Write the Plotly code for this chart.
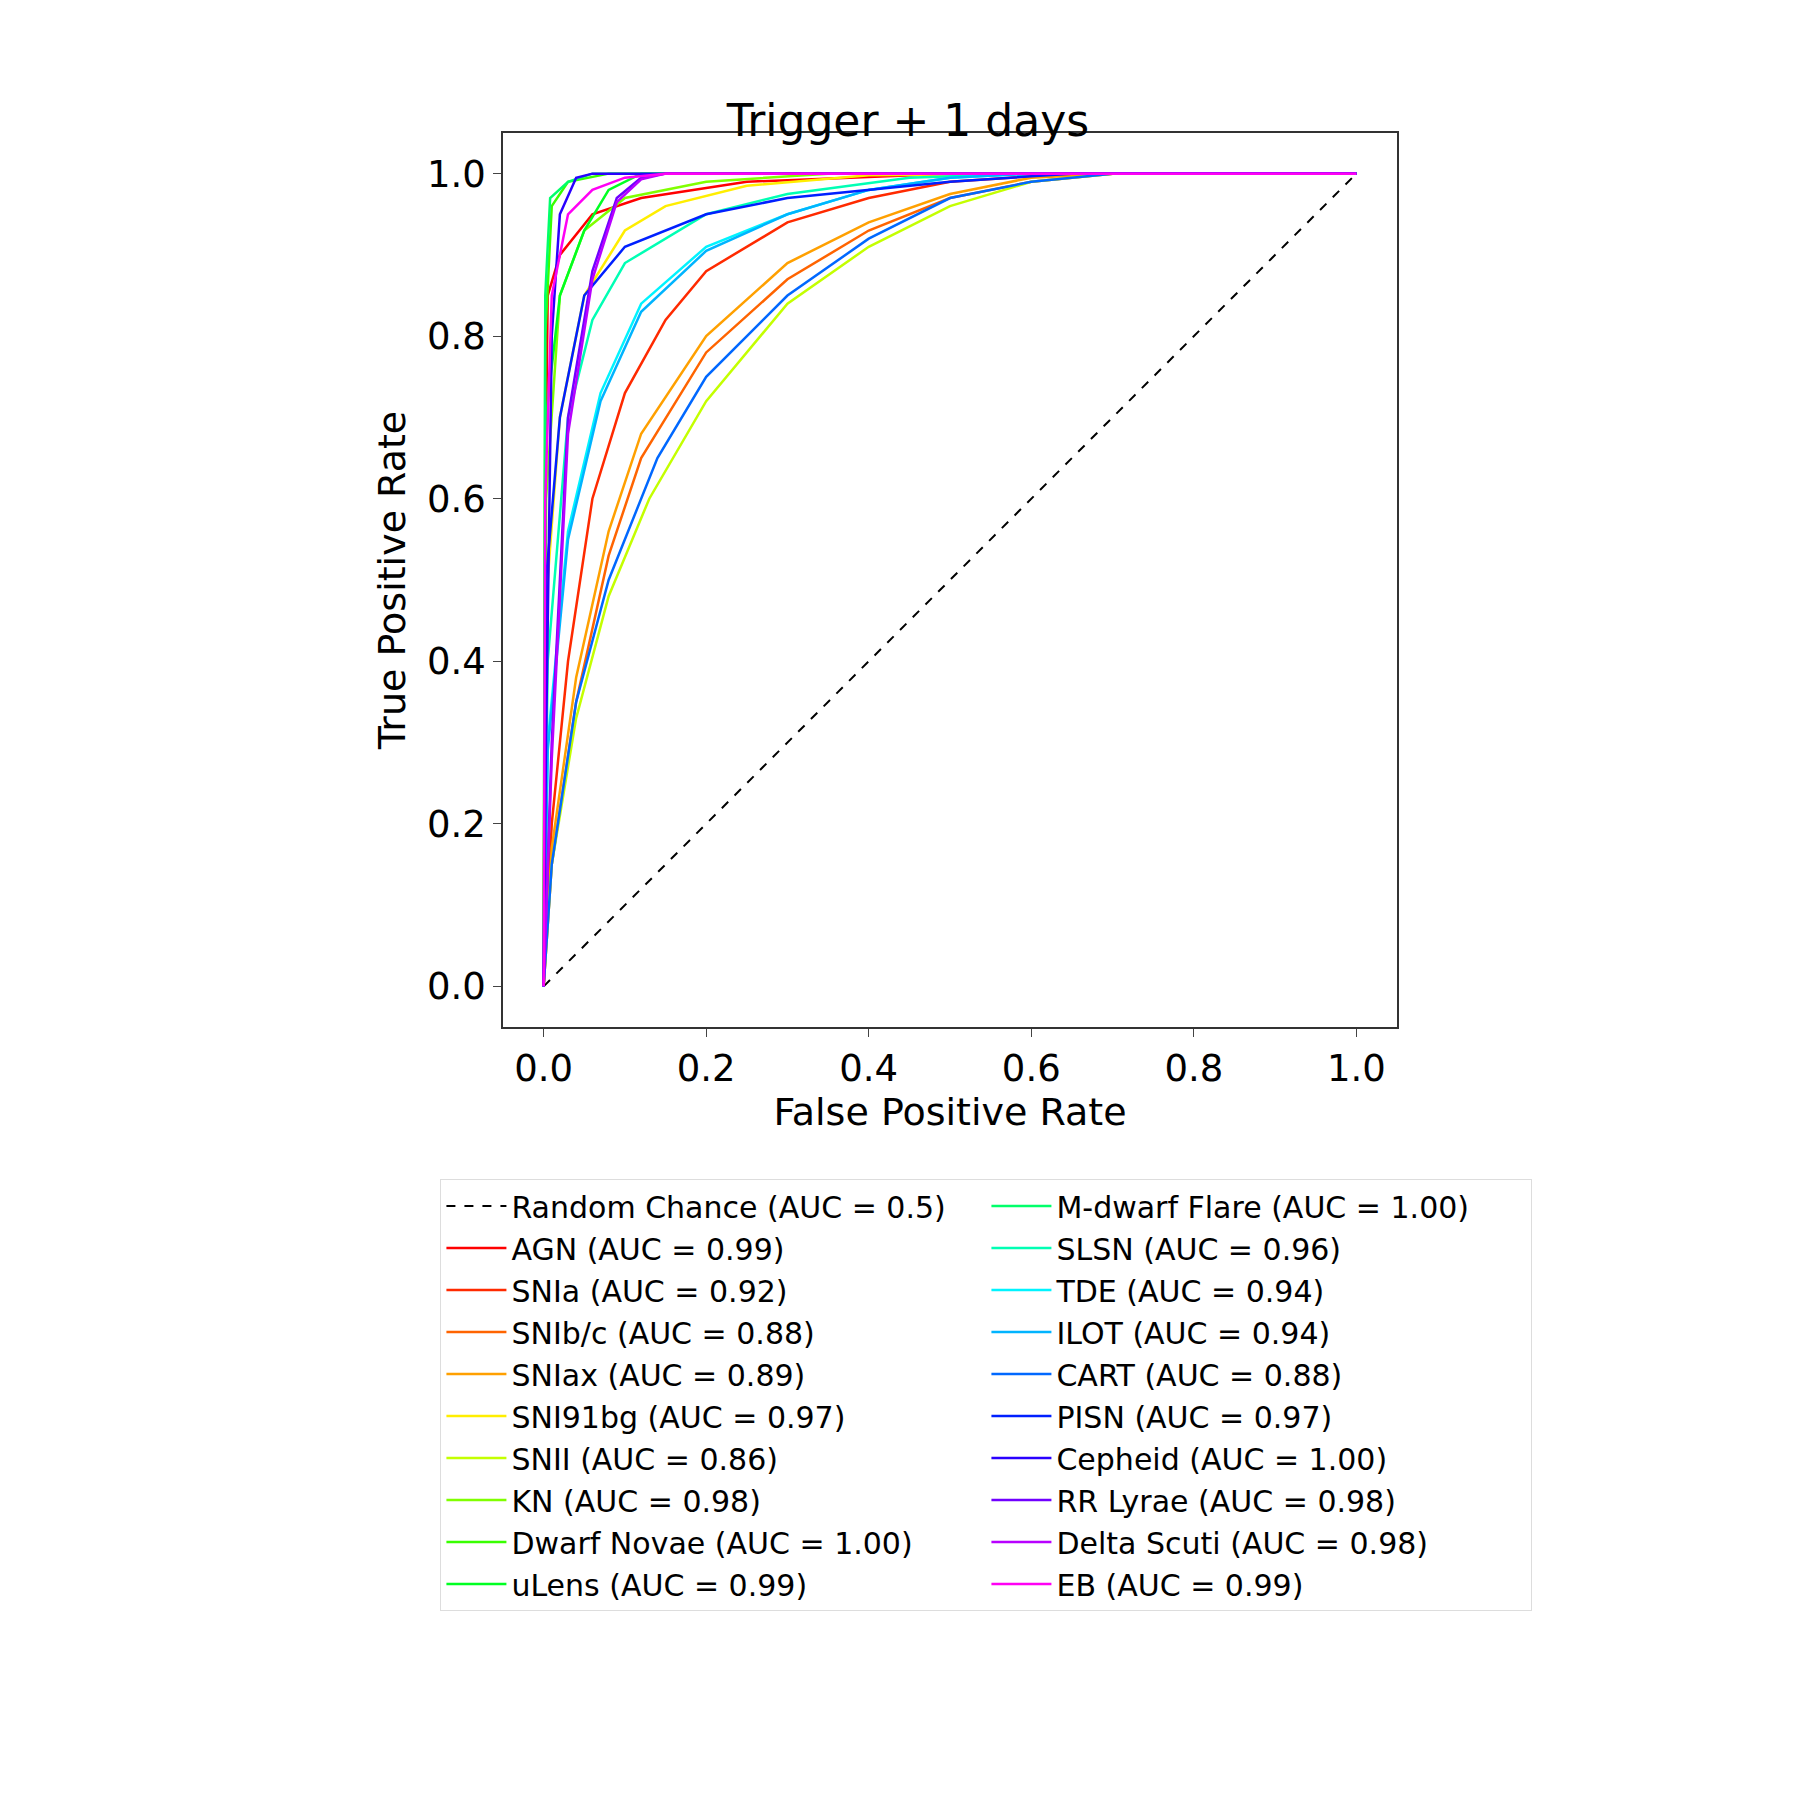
import plotly.graph_objects as go

names = ["AGN","SNIa","SNIb/c","SNIax","SNI91bg","SNII","KN","Dwarf Novae","uLens",
         "M-dwarf Flare","SLSN","TDE","ILOT","CART","PISN","Cepheid","RR Lyrae","Delta Scuti","EB"]
aucs = ["0.99","0.92","0.88","0.89","0.97","0.86","0.98","1.00","0.99",
        "1.00","0.96","0.94","0.94","0.88","0.97","1.00","0.98","0.98","0.99"]
colors = ["#ff0000","#ff2a00","#ff6400","#ffa000","#ffee00","#c4ff00","#80ff00","#38ff00","#00ff22",
          "#00ff6a","#00ffb4","#00f4ff","#00b4ff","#0068ff","#0020ff","#2a00ff","#7000ff","#b800ff","#ff00f4"]
fpr = [
 [0,0.002,0.005,0.02,0.06,0.12,0.25,0.5,1],
 [0,0.01,0.03,0.06,0.1,0.15,0.2,0.3,0.4,0.5,0.65,1],
 [0,0.01,0.04,0.08,0.12,0.2,0.3,0.4,0.5,0.6,0.7,1],
 [0,0.01,0.04,0.08,0.12,0.2,0.3,0.4,0.5,0.6,0.7,1],
 [0,0.005,0.02,0.05,0.1,0.15,0.25,0.4,0.6,1],
 [0,0.01,0.04,0.08,0.13,0.2,0.3,0.4,0.5,0.6,0.7,1],
 [0,0.003,0.02,0.05,0.1,0.2,0.35,1],
 [0,0.002,0.01,0.03,0.08,1],
 [0,0.003,0.02,0.05,0.08,0.12,1],
 [0,0.002,0.008,0.03,0.06,1],
 [0,0.005,0.03,0.06,0.1,0.2,0.3,0.45,0.6,1],
 [0,0.005,0.03,0.07,0.12,0.2,0.3,0.4,0.5,0.6,1],
 [0,0.005,0.03,0.07,0.12,0.2,0.3,0.4,0.5,0.6,1],
 [0,0.01,0.04,0.08,0.14,0.2,0.3,0.4,0.5,0.6,0.7,1],
 [0,0.003,0.02,0.05,0.1,0.2,0.3,0.5,0.65,1],
 [0,0.003,0.01,0.02,0.04,0.06,1],
 [0,0.01,0.03,0.06,0.09,0.12,0.15,1],
 [0,0.01,0.03,0.06,0.09,0.12,0.15,1],
 [0,0.002,0.01,0.03,0.06,0.1,0.15,1],
]
tpr = [
 [0,0.6,0.85,0.9,0.95,0.97,0.99,1,1],
 [0,0.2,0.4,0.6,0.73,0.82,0.88,0.94,0.97,0.99,1,1],
 [0,0.15,0.35,0.53,0.65,0.78,0.87,0.93,0.97,0.99,1,1],
 [0,0.17,0.38,0.56,0.68,0.8,0.89,0.94,0.975,0.995,1,1],
 [0,0.5,0.7,0.85,0.93,0.96,0.985,0.998,1,1],
 [0,0.15,0.33,0.48,0.6,0.72,0.84,0.91,0.96,0.99,1,1],
 [0,0.6,0.85,0.93,0.97,0.99,1,1],
 [0,0.8,0.96,0.99,1,1],
 [0,0.7,0.85,0.93,0.98,1,1],
 [0,0.85,0.97,0.99,1,1],
 [0,0.4,0.7,0.82,0.89,0.95,0.975,0.995,1,1],
 [0,0.3,0.56,0.73,0.84,0.91,0.95,0.98,0.995,1,1],
 [0,0.29,0.55,0.72,0.83,0.905,0.95,0.98,0.995,1,1],
 [0,0.15,0.35,0.5,0.65,0.75,0.85,0.92,0.97,0.99,1,1],
 [0,0.5,0.7,0.85,0.91,0.95,0.97,0.99,1,1],
 [0,0.3,0.8,0.95,0.995,1,1],
 [0,0.3,0.7,0.88,0.97,0.995,1,1],
 [0,0.28,0.68,0.87,0.965,0.993,1,1],
 [0,0.6,0.85,0.95,0.98,0.995,1,1],
]

fig = go.Figure()
fig.add_trace(go.Scatter(x=[0,1], y=[0,1], mode="lines", name="Random Chance (AUC = 0.5)",
                         line=dict(color="black", dash="dash", width=2), legendrank=0))
for i, (n, a, c, xs, ys) in enumerate(zip(names, aucs, colors, fpr, tpr)):
    k = i + 1
    rank = 2 * k if k < 10 else 2 * (k - 10) + 1
    fig.add_trace(go.Scatter(x=xs, y=ys, mode="lines", name=f"{n} (AUC = {a})",
                             line=dict(color=c, width=2.5), legendrank=rank))

ticks = [0,0.2,0.4,0.6,0.8,1.0]
labels = ["0.0","0.2","0.4","0.6","0.8","1.0"]
fig.update_layout(
    width=1800, height=1800, paper_bgcolor="white", plot_bgcolor="white",
    margin=dict(l=495, r=411, t=125, b=781),
    font=dict(family="DejaVu Sans", color="black"),
    title=dict(text="Trigger + 1 days", x=0.5, xanchor="center", y=1-128/1800, yanchor="bottom",
               font=dict(size=44)),
    xaxis=dict(range=[-0.05,1.05], tickvals=ticks, ticktext=labels,
               showgrid=False, zeroline=False, showline=True, mirror=True, linecolor="#333", linewidth=1.5,
               ticks="outside", ticklen=8, tickfont=dict(size=37),
               title=dict(text="False Positive Rate", font=dict(size=38), standoff=8)),
    yaxis=dict(range=[-0.05,1.05], tickvals=ticks, ticktext=labels,
               showgrid=False, zeroline=False, showline=True, mirror=True, linecolor="#333", linewidth=1.5,
               ticks="outside", ticklen=8, tickfont=dict(size=37),
               title=dict(text="True Positive Rate", font=dict(size=38), standoff=10)),
    legend=dict(orientation="h", x=-0.07, y=-0.17, xanchor="left", yanchor="top",
                entrywidth=470, entrywidthmode="pixels", font=dict(size=30), itemwidth=60,
                bordercolor="#dddddd", borderwidth=1, traceorder="normal"),
)
fig.write_html("out.html")
